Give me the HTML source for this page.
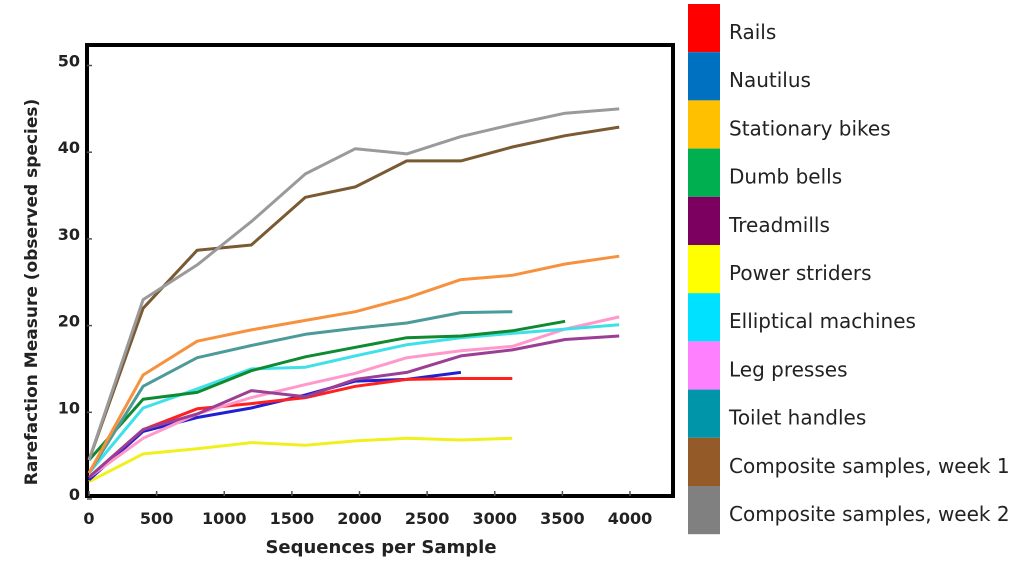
<!DOCTYPE html>
<html><head><meta charset="utf-8"><style>
body{margin:0;background:#fff;width:1024px;height:568px;overflow:hidden;font-family:"DejaVu Sans","Liberation Sans",sans-serif}
svg{display:block}
</style></head><body>
<svg id="chart" width="1024" height="568" xmlns="http://www.w3.org/2000/svg">
<rect x="87" y="45" width="586" height="451" fill="#fff" stroke="#000" stroke-width="4"/>
<g id="ticks"></g><g id="lines"></g><g id="legend"></g>
<text transform="translate(37,292) rotate(-90)" text-anchor="middle" font-size="17" font-weight="bold" fill="#222">Rarefaction Measure (observed species)</text>
<text x="381" y="553" text-anchor="middle" font-size="18" font-weight="bold" fill="#222">Sequences per Sample</text>
</svg>
<script>
const xs=[0,400,800,1200,1600,1970,2350,2750,3130,3520,3920];
const xTicks=[0,500,1000,1500,2000,2500,3000,3500,4000];
const yTicks=[0,10,20,30,40,50];
const seriesNames=["Rails","Nautilus","Stationary bikes","Dumb bells","Treadmills","Power striders","Elliptical machines","Leg presses","Toilet handles","Composite samples, week 1","Composite samples, week 2"];
const rails=[2.5,8,10.4,11,11.7,13.0,13.8,13.9,13.9];
const nautilus=[2.2,7.8,9.4,10.5,12.0,13.6,13.8,14.6];
const bikes=[3,14.3,18.2,19.5,20.6,21.6,23.2,25.3,25.8,27.1,28];
const dumbbells=[4.5,11.5,12.3,14.8,16.4,17.5,18.6,18.8,19.4,20.5];
const treadmills=[2.5,8,9.8,12.5,11.8,13.8,14.6,16.5,17.2,18.4,18.8];
const striders=[2,5.2,5.8,6.5,6.2,6.7,7,6.8,7.0];
const elliptical=[3,10.5,12.7,15,15.2,16.5,17.8,18.6,19.1,19.6,20.1];
const legpress=[2.5,7,9.8,11.7,13.2,14.5,16.3,17.1,17.6,19.6,21];
const toilet=[3,13,16.3,17.7,19,19.7,20.3,21.5,21.6];
const week1=[4.5,22,28.7,29.3,34.8,36,39,39,40.6,41.9,42.9];
const week2=[4.5,23,27,32,37.5,40.4,39.8,41.8,43.2,44.5,45];
const allSeries=[rails,nautilus,bikes,dumbbells,treadmills,striders,elliptical,legpress,toilet,week1,week2];
const lineColors=["#ff2020","#2020d0","#f7913d","#108a30","#9b3f96","#f0f020","#40e0e8","#ff99cc","#4c9a9a","#7a5a32","#9a9a9a"];
const swatchColors=["#ff0000","#0070c0","#ffc000","#00b050","#7b0060","#ffff00","#00e0ff","#ff80ff","#0095a8","#945a28","#808080"];
const drawOrder=[5,1,0,7,4,6,3,8,2,9,10];
const sx=v=>89+v*0.13525, sy=v=>499-v*8.67;
const NS="http://www.w3.org/2000/svg";
const tg=document.getElementById('ticks'),lg=document.getElementById('lines'),leg=document.getElementById('legend');
function mk(tag,at){const e=document.createElementNS(NS,tag);for(const k in at)e.setAttribute(k,at[k]);return e;}
xTicks.forEach(t=>{
 const l=mk('line',{x1:sx(t),x2:sx(t),y1:496,y2:491,stroke:'#555','stroke-width':1.5});
 
 
 tg.appendChild(l);
 const tx=mk('text',{x:sx(t),y:524,'text-anchor':'middle','font-size':16,'font-weight':'bold',fill:'#222'});
 
 
 tx.textContent=t;tg.appendChild(tx);
});
yTicks.forEach(t=>{
 const l=mk('line',{x1:87,x2:92,y1:sy(t),y2:sy(t),stroke:'#555','stroke-width':1.5});
 
 
 tg.appendChild(l);
 const tx=mk('text',{x:80,y:sy(t)+1,'text-anchor':'end','font-size':16,'font-weight':'bold',fill:'#222'});
 
 
 tx.textContent=t;tg.appendChild(tx);
});
drawOrder.forEach(i=>{
 const d=allSeries[i].map((v,j)=>(j?'L':'M')+sx(xs[j]).toFixed(1)+','+sy(v).toFixed(1)).join('');
 const p=mk('path',{d:d,fill:'none',stroke:lineColors[i],'stroke-width':3,'stroke-linejoin':'round'});
 
 
 lg.appendChild(p);
});
seriesNames.forEach((n,i)=>{
 const y=4+i*48.2;
 const r=mk('rect',{x:688,y:y,width:32,height:48.2,fill:swatchColors[i]});
 
 
 leg.appendChild(r);
 const t=mk('text',{x:729,y:y+35,'font-size':20,fill:'#222'});
 
 
 t.textContent=n;leg.appendChild(t);
});
</script>
</body></html>
